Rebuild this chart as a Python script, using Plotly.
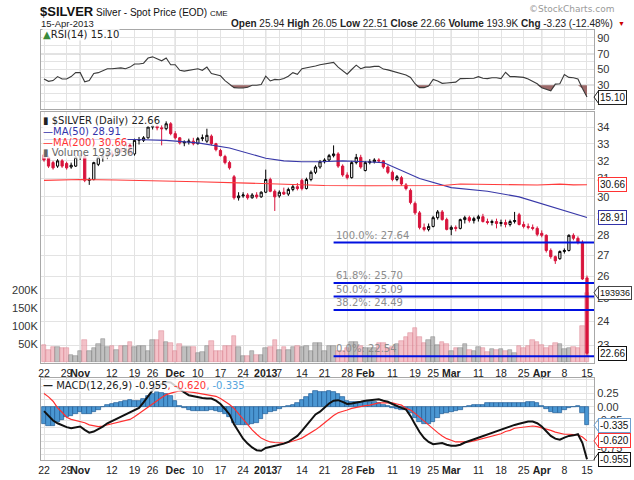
import math
import pandas as pd
import plotly.graph_objects as go

W, H = 634, 480
def px(v): return v / W
def py(v): return 1 - v / H

# ---------------- data ----------------
holidays = ['2012-11-22', '2012-12-25', '2013-01-01', '2013-02-18', '2013-03-29']
dates = [d.strftime('%Y-%m-%d') for d in pd.bdate_range('2012-10-22', '2013-04-15')
         if d.strftime('%Y-%m-%d') not in holidays]
xs = list(range(len(dates)))

opens = [32.35, 32.20, 31.90, 31.70, 32.00, 31.85, 31.65, 31.70, 32.20, 32.25,
         30.90, 30.95, 31.80, 32.20, 32.25, 32.45, 32.35, 32.75, 32.55, 32.90,
         32.40, 33.20, 33.20, 33.35, 34.00, 34.05, 33.95, 33.90, 34.20, 33.60,
         33.35, 33.05, 33.10, 33.15, 33.00, 33.30, 33.15, 33.45, 33.00, 32.60,
         32.25, 31.90, 31.10, 29.95, 30.05, 30.10, 29.95, 30.10, 30.00, 30.25,
         30.95, 30.30, 30.05, 30.25, 30.15, 30.40, 30.55, 30.90, 30.45, 30.95,
         31.35, 31.65, 31.95, 32.05, 32.30, 32.40, 31.70, 31.20, 31.05, 31.90,
         32.20, 31.45, 31.90, 31.95, 32.05, 32.00, 31.65, 31.35, 30.95, 31.05,
         30.65, 30.35, 29.65, 29.15, 28.40, 28.30, 28.45, 28.90, 29.20, 28.80,
         28.30, 28.40, 28.35, 28.80, 28.90, 28.75, 28.85, 28.95, 28.70, 28.65,
         28.70, 28.60, 28.65, 28.55, 28.70, 29.05, 28.55, 28.45, 28.40, 28.35,
         28.10, 28.00, 27.25, 26.95, 26.85, 27.20, 27.25, 28.00, 27.85, 27.65, 25.94]
highs = [32.50, 32.30, 32.00, 32.10, 32.10, 31.95, 31.90, 32.30, 32.45, 32.35,
         31.05, 31.95, 32.30, 32.45, 32.60, 32.60, 32.85, 33.00, 33.05, 33.00,
         33.30, 33.40, 33.45, 34.05, 34.15, 34.20, 34.10, 34.35, 34.30, 33.75,
         33.40, 33.20, 33.30, 33.35, 33.40, 33.55, 33.90, 33.55, 33.05, 32.70,
         32.35, 32.00, 31.20, 30.25, 30.25, 30.20, 30.20, 30.25, 30.30, 31.50,
         31.05, 30.40, 30.35, 30.50, 30.50, 30.70, 30.75, 31.00, 31.05, 31.45,
         31.75, 32.05, 32.15, 32.40, 32.90, 32.50, 31.80, 31.35, 32.00, 32.40,
         32.35, 32.00, 32.10, 32.15, 32.15, 32.05, 31.75, 31.45, 31.20, 31.15,
         30.75, 30.45, 29.75, 29.25, 28.60, 28.60, 29.00, 29.30, 29.30, 28.90,
         28.50, 28.50, 28.85, 29.00, 29.00, 28.95, 29.05, 29.10, 28.85, 28.80,
         28.85, 28.80, 28.80, 28.80, 29.20, 29.15, 28.70, 28.60, 28.55, 28.45,
         28.25, 28.05, 27.35, 27.00, 27.25, 27.35, 28.05, 28.10, 27.95, 27.75, 26.05]
lows = [31.95, 31.60, 31.50, 31.60, 31.60, 31.50, 31.55, 31.65, 32.05, 30.80,
        30.65, 30.90, 31.70, 31.95, 32.10, 32.20, 32.25, 32.45, 32.45, 32.35,
        32.30, 32.95, 33.10, 33.30, 33.85, 33.80, 32.90, 33.80, 33.50, 33.25,
        32.95, 32.85, 32.95, 32.90, 32.95, 33.15, 33.05, 32.90, 32.55, 32.25,
        31.80, 31.50, 29.85, 29.80, 29.95, 29.85, 29.90, 29.90, 29.95, 30.20,
        30.25, 29.25, 29.95, 30.10, 30.05, 30.30, 30.35, 30.35, 30.40, 30.85,
        31.25, 31.55, 31.85, 31.95, 32.20, 31.60, 31.10, 30.95, 31.00, 31.80,
        31.55, 31.40, 31.80, 31.85, 31.90, 31.55, 31.25, 30.85, 30.85, 30.60,
        30.35, 29.60, 29.05, 28.30, 28.20, 28.20, 28.40, 28.80, 28.75, 28.25,
        28.00, 28.20, 28.30, 28.60, 28.65, 28.60, 28.70, 28.65, 28.55, 28.50,
        28.35, 28.45, 28.40, 28.45, 28.60, 28.50, 28.35, 28.30, 28.25, 27.95,
        27.90, 27.15, 26.85, 26.60, 26.80, 27.10, 27.20, 27.75, 27.55, 25.85, 22.51]
closes = [32.05, 31.70, 31.60, 32.00, 31.70, 31.60, 31.75, 32.20, 32.30, 30.90,
          30.95, 31.90, 32.20, 32.25, 32.45, 32.35, 32.75, 32.55, 32.95, 32.45,
          33.20, 33.25, 33.35, 34.00, 34.05, 33.95, 33.90, 34.20, 33.60, 33.35,
          33.05, 33.10, 33.15, 33.00, 33.30, 33.35, 33.50, 33.00, 32.65, 32.30,
          31.90, 31.60, 29.95, 30.05, 30.10, 29.95, 30.10, 30.00, 30.25, 30.95,
          30.30, 30.00, 30.25, 30.15, 30.40, 30.55, 30.45, 30.45, 30.95, 31.35,
          31.65, 31.95, 32.05, 32.30, 32.40, 31.70, 31.20, 31.05, 31.90, 32.20,
          31.65, 31.90, 31.95, 32.05, 32.00, 31.65, 31.35, 30.95, 31.10, 30.70,
          30.45, 29.70, 29.15, 28.40, 28.30, 28.45, 28.90, 29.20, 28.80, 28.30,
          28.40, 28.35, 28.80, 28.90, 28.75, 28.85, 28.95, 28.70, 28.65, 28.70,
          28.60, 28.65, 28.55, 28.70, 28.75, 28.55, 28.45, 28.40, 28.35, 28.05,
          28.00, 27.25, 26.95, 26.75, 27.20, 27.25, 28.00, 27.85, 27.65, 25.89, 22.66]
volume_k = [48, 34, 41, 41, 38, 38, 20, 18, 30, 62,
            32, 38, 50, 65, 41, 46, 34, 46, 44, 55,
            41, 46, 46, 30, 62, 62, 87, 57, 53, 32,
            50, 41, 41, 41, 25, 28, 46, 60, 30, 30,
            45, 45, 74, 41, 16, 18, 32, 20, 20, 38,
            41, 62, 34, 41, 34, 41, 45, 41, 45, 32,
            53, 53, 32, 44, 44, 30, 30, 38, 55, 55,
            45, 40, 40, 40, 53, 53, 38, 42, 50, 60,
            71, 81, 96, 71, 53, 62, 71, 48, 57, 50,
            32, 38, 38, 50, 34, 30, 41, 38, 28, 36,
            34, 36, 32, 34, 24, 46, 40, 46, 62, 55,
            48, 38, 45, 53, 50, 36, 40, 42, 40, 101, 193.936]
rsi = [38, 35, 36, 41, 38, 38, 41, 46, 46, 34.5,
       36, 45, 46, 49, 51, 51, 51.5, 52, 51, 53,
       57, 57, 58, 64.5, 66, 63, 61, 64.5, 56, 56,
       49, 48, 49, 50, 51, 49, 53, 45, 43.5, 42,
       36, 32, 27, 26.5, 26.5, 27.5, 30, 30, 31, 41.5,
       35.5, 37.5, 37, 38.5, 41.5, 46, 44, 51, 52, 53.5,
       54.5, 56, 57, 58, 59, 53, 48, 44, 50, 55.5,
       51, 53, 53, 54, 54, 50.5, 49.5, 48, 46, 44.5,
       43, 40, 32, 27, 27, 29, 37.5, 35.5, 32.5, 33,
       33.5, 34, 38.5, 38.5, 38.5, 39, 41, 39, 38.5, 39.5,
       39.5, 38.5, 46.5, 41, 41, 40.5, 40, 38, 35.5, 32,
       27, 25, 23, 31.5, 32, 43.5, 40, 39.5, 38, 26, 15.1]
macd = [-0.08, -0.17, -0.25, -0.30, -0.34, -0.37, -0.39, -0.38, -0.36, -0.42,
        -0.47, -0.45, -0.41, -0.36, -0.30, -0.26, -0.23, -0.19, -0.15, -0.11,
        -0.07, -0.02, 0.08, 0.20, 0.30, 0.38, 0.42, 0.45, 0.44, 0.38,
        0.31, 0.26, 0.21, 0.19, 0.17, 0.16, 0.15, 0.15, 0.11, 0.05,
        -0.04, -0.14, -0.32, -0.46, -0.58, -0.67, -0.74, -0.79, -0.80, -0.75,
        -0.73, -0.72, -0.70, -0.67, -0.64, -0.59, -0.53, -0.44, -0.34, -0.24,
        -0.14, -0.09, -0.02, 0.06, 0.11, 0.12, 0.09, 0.05, 0.06, 0.07,
        0.09, 0.11, 0.12, 0.13, 0.135, 0.11, 0.09, 0.05, 0.01, -0.02,
        -0.05, -0.17, -0.32, -0.46, -0.57, -0.64, -0.68, -0.67, -0.66, -0.69,
        -0.71, -0.71, -0.69, -0.65, -0.62, -0.59, -0.57, -0.54, -0.50, -0.47,
        -0.44, -0.42, -0.39, -0.36, -0.33, -0.31, -0.29, -0.27, -0.27, -0.30,
        -0.36, -0.44, -0.53, -0.58, -0.60, -0.56, -0.53, -0.52, -0.50, -0.66, -0.955]
signal = [0.24, 0.18, 0.10, -0.02, -0.10, -0.19, -0.23, -0.25, -0.26, -0.29,
          -0.33, -0.35, -0.36, -0.35, -0.33, -0.31, -0.30, -0.28, -0.26, -0.23,
          -0.18, -0.12, -0.06, 0.00, 0.06, 0.12, 0.17, 0.22, 0.25, 0.27,
          0.29, 0.285, 0.27, 0.26, 0.245, 0.23, 0.22, 0.21, 0.19, 0.15,
          0.10, 0.04, -0.03, -0.13, -0.24, -0.34, -0.42, -0.50, -0.57, -0.61,
          -0.64, -0.65, -0.66, -0.66, -0.65, -0.63, -0.60, -0.57, -0.52, -0.48,
          -0.42, -0.36, -0.29, -0.22, -0.16, -0.11, -0.09, -0.06, -0.03, -0.01,
          0.00, 0.02, 0.03, 0.05, 0.07, 0.07, 0.07, 0.07, 0.05, 0.03,
          -0.03, -0.06, -0.12, -0.19, -0.26, -0.33, -0.41, -0.47, -0.53, -0.58,
          -0.61, -0.64, -0.64, -0.64, -0.64, -0.62, -0.60, -0.58, -0.56, -0.53,
          -0.51, -0.49, -0.45, -0.43, -0.39, -0.38, -0.36, -0.35, -0.35, -0.36,
          -0.38, -0.40, -0.43, -0.46, -0.48, -0.50, -0.50, -0.51, -0.51, -0.55, -0.62]

ma50_dates = ['2012-10-22', '2012-11-05', '2012-11-19', '2012-11-29', '2012-12-10', '2012-12-19',
              '2012-12-26', '2013-01-02', '2013-01-08', '2013-01-14', '2013-01-18', '2013-01-25',
              '2013-02-01', '2013-02-07', '2013-02-13', '2013-02-20', '2013-03-01', '2013-03-13',
              '2013-03-22', '2013-04-03', '2013-04-09', '2013-04-15']
ma50_vals = [33.25, 33.25, 33.25, 33.2, 33.05, 32.75, 32.45, 32.15, 32.0, 31.95, 31.95, 32.0,
             31.95, 31.9, 31.45, 31.0, 30.5, 30.3, 30.0, 29.5, 29.2, 28.91]
ma200_dates = ['2012-10-22', '2012-11-01', '2012-11-13', '2012-11-27', '2012-12-10', '2012-12-26',
               '2013-01-10', '2013-01-21', '2013-02-04', '2013-02-19', '2013-02-27', '2013-03-05',
               '2013-03-12', '2013-03-20', '2013-03-28', '2013-04-05', '2013-04-10', '2013-04-15']
ma200_vals = [30.9, 30.95, 30.92, 30.88, 30.82, 30.75, 30.67, 30.62, 30.6, 30.6, 30.62, 30.7,
              30.68, 30.66, 30.64, 30.69, 30.65, 30.66]

fib_levels = [27.64, 25.70, 25.09, 24.49, 22.54]
fib_labels = ['100.0%: 27.64', '61.8%: 25.70', '50.0%: 25.09', '38.2%: 24.49', '0.0%: 22.54']
fib_start = '2013-01-23'

tick_dates = ['2012-10-22', '2012-10-29', '2012-11-01', '2012-11-12', '2012-11-19', '2012-11-26',
              '2012-12-03', '2012-12-10', '2012-12-17', '2012-12-24', '2013-01-02', '2013-01-07',
              '2013-01-14', '2013-01-21', '2013-01-28', '2013-02-01', '2013-02-11', '2013-02-19',
              '2013-02-25', '2013-03-01', '2013-03-11', '2013-03-18', '2013-03-25', '2013-04-01',
              '2013-04-08', '2013-04-15']
tick_labels = ['22', '29', '<b>Nov</b>', '12', '19', '26', '<b>Dec</b>', '10', '17', '24', '<b>2013</b>',
               '7', '14', '21', '28', '<b>Feb</b>', '11', '19', '25', '<b>Mar</b>', '11', '18', '25',
               '<b>Apr</b>', '8', '15']
month_dates = ['2012-11-01', '2012-12-03', '2013-01-02', '2013-02-01', '2013-03-01', '2013-04-01']

price_ticks = [23, 24, 25, 26, 27, 28, 29, 30, 31, 32, 33, 34]
vol_ticks = [50000, 100000, 150000, 200000]
vol_tick_text = ['50K', '100K', '150K', '200K']
rsi_ticks = [10, 20, 30, 40, 50, 60, 70, 80, 90]
rsi_tick_text = ['10', '', '30', '', '50', '', '70', '', '90']
macd_ticks = [-0.875, -0.75, -0.625, -0.5, -0.375, -0.25, -0.125, 0, 0.125, 0.25, 0.375, 0.5]
macd_tick_text = ['', '-0.75', '', '-0.50', '', '-0.25', '', '0.00', '', '0.25', '', '']

# ---------------- geometry ----------------
XD = [px(41), px(594)]
XR = [-0.663, 121.55]
RSI_D = [py(109), py(30)]
PRICE_D = [py(363), py(112)]
MACD_D = [py(460), py(378)]
PRICE_R = [math.log10(22.27), math.log10(34.93)]
VOL_R = [-2800, 700000]
MACD_R = [-0.968, 0.5227]

pos = {d: i for i, d in enumerate(dates)}
tick_pos = [pos[d] for d in tick_dates]
month_pos = [pos[d] for d in month_dates]

RED = '#D8143C'
GRID = '#e3e3e3'
FRAME = '#a8a8a8'
TFONT = dict(family='Liberation Sans, Arial', size=11, color='#333333')
LFONT = 'DejaVu Sans, Verdana'
LEG_BG = 'rgba(255,255,255,0.8)'

fig = go.Figure()

# RSI
fig.add_trace(go.Scatter(x=xs, y=[30] * len(xs), xaxis='x', yaxis='y', mode='lines',
                         line=dict(width=0, color='rgba(0,0,0,0)'), hoverinfo='skip', showlegend=False))
fig.add_trace(go.Scatter(x=xs, y=[min(v, 30) for v in rsi], xaxis='x', yaxis='y', mode='lines',
                         fill='tonexty', fillcolor='rgba(140,80,80,0.85)',
                         line=dict(width=0, color='rgba(0,0,0,0)'), hoverinfo='skip', showlegend=False))
fig.add_trace(go.Scatter(x=xs, y=rsi, xaxis='x', yaxis='y', mode='lines',
                         line=dict(color='#3a3a3a', width=1.1), hoverinfo='skip', showlegend=False))

# Volume
vol = [v * 1000 for v in volume_k]
down = [closes[i] < (closes[i - 1] if i > 0 else opens[i]) for i in xs]
vol_fill = ['rgba(236,160,170,0.65)' if d else 'rgba(150,150,150,0.6)' for d in down]
vol_line = ['rgba(215,120,135,0.7)' if d else 'rgba(115,115,115,0.7)' for d in down]
fig.add_trace(go.Bar(x=xs, y=vol, xaxis='x2', yaxis='y2', width=1,
                     marker=dict(color=vol_fill, line=dict(color=vol_line, width=0.6)),
                     hoverinfo='skip', showlegend=False))

# Price
fig.add_trace(go.Candlestick(x=xs, open=opens, high=highs, low=lows, close=closes,
                             xaxis='x2', yaxis='y3', whiskerwidth=0,
                             increasing=dict(line=dict(color='#000000', width=1), fillcolor='#ffffff'),
                             decreasing=dict(line=dict(color=RED, width=1), fillcolor=RED),
                             hoverinfo='skip', showlegend=False))
fig.add_trace(go.Scatter(x=[pos[d] for d in ma50_dates], y=ma50_vals, xaxis='x2', yaxis='y3',
                         mode='lines', line=dict(color='#3838A8', width=1.1),
                         hoverinfo='skip', showlegend=False))
fig.add_trace(go.Scatter(x=[pos[d] for d in ma200_dates], y=ma200_vals, xaxis='x2', yaxis='y3',
                         mode='lines', line=dict(color='#FF3B3B', width=1.1),
                         hoverinfo='skip', showlegend=False))
for lv in fib_levels:
    fig.add_trace(go.Scatter(x=[pos[fib_start], XR[1]], y=[lv, lv], xaxis='x2', yaxis='y3',
                             mode='lines', line=dict(color='#0010E0', width=2),
                             hoverinfo='skip', showlegend=False))

# MACD
hist = [m - s for m, s in zip(macd, signal)]
fig.add_trace(go.Bar(x=xs, y=hist, xaxis='x3', yaxis='y4', width=1,
                     marker=dict(color='#4A96D2', line=dict(color='#1F5C96', width=0.7)),
                     hoverinfo='skip', showlegend=False))
fig.add_trace(go.Scatter(x=xs, y=signal, xaxis='x3', yaxis='y4', mode='lines',
                         line=dict(color='#FF3030', width=1.2), hoverinfo='skip', showlegend=False))
fig.add_trace(go.Scatter(x=xs, y=macd, xaxis='x3', yaxis='y4', mode='lines',
                         line=dict(color='#111111', width=2), hoverinfo='skip', showlegend=False))

# ---------------- shapes ----------------
shapes = []
for dom in (RSI_D, PRICE_D, MACD_D):
    for m in month_pos:
        shapes.append(dict(type='line', xref='x', yref='paper', x0=m, x1=m, y0=dom[0], y1=dom[1],
                           line=dict(color='#b8b8b8', width=1), layer='below'))
for lv, dash, col in ((70, 'solid', '#8a8a8a'), (30, 'solid', '#8a8a8a'), (50, 'dashdot', '#9a9a9a')):
    shapes.append(dict(type='line', xref='paper', yref='y', x0=XD[0], x1=XD[1], y0=lv, y1=lv,
                       line=dict(color=col, width=1.2, dash=dash), layer='below'))

# ---------------- annotations ----------------
ann = []
def text(x, y, s, size=10, color='#222222', family='Liberation Sans, Arial', anchor='left', **kw):
    ann.append(dict(x=px(x), y=py(y), xref='paper', yref='paper', text=s, showarrow=False,
                    xanchor=anchor, yanchor='middle', font=dict(size=size, color=color, family=family), **kw))

text(38, 11, '<b>$SILVER</b><span style="font-size:10px"> Silver - Spot Price (EOD) </span>'
             '<span style="font-size:8px">CME</span>', size=13, color='#111111',
     family='Liberation Sans Narrow, Liberation Sans, Arial')
text(616, 9, '©StockCharts.com', size=9, color='#9a9a9a', family=LFONT, anchor='right')
text(39, 23, '15-Apr-2013', size=9.5, color='#222222')
text(615, 23, '<b>Open</b> 25.94 <b>High</b> 26.05 <b>Low</b> 22.51 <b>Close</b> 22.66 '
              '<b>Volume</b> 193.9K <b>Chg</b> -3.23 (-12.48%)', size=10, color='#222222', anchor='right')
text(616, 23, '▼', size=7, color='#CC0000')

text(42, 35, '<span style="color:#3a8a3a">▲</span>RSI(14) 15.10', size=10, color='#222222',
     family=LFONT, bgcolor=LEG_BG, borderpad=0)
legend_lines = [('▮ $SILVER (Daily) 22.66', '#222222', 120),
                ('—MA(50) 28.91', '#3333AA', 131),
                ('—MA(200) 30.66', '#FF3333', 142),
                ('▮ Volume 193,936', '#666666', 152)]
for s, c, yy in legend_lines:
    text(42, yy, s, size=10, color=c, family=LFONT, bgcolor=LEG_BG, borderpad=0)
text(42, 385, '<b>—</b> MACD(12,26,9) -0.955<span style="color:#FF3333">, -0.620</span>'
              '<span style="color:#55A5DD">, -0.335</span>', size=10, color='#222222',
     family=LFONT, bgcolor=LEG_BG, borderpad=0)

for lv, lab in zip(fib_levels, fib_labels):
    ann.append(dict(x=pos[fib_start], y=math.log10(lv), xref='x2', yref='y3', text=lab,
                    showarrow=False, xanchor='left', yanchor='bottom', yshift=0,
                    font=dict(size=10, color='#8c8c8c', family=LFONT)))

def value_box(val, yref, label, border, size=10):
    yv = math.log10(val) if yref == 'y3' else val
    ann.append(dict(x=px(598), y=yv, xref='paper', yref=yref, text=label, showarrow=False,
                    xanchor='left', yanchor='middle', bgcolor='#ffffff', bordercolor=border,
                    borderwidth=1, borderpad=1,
                    font=dict(size=size, color='#111111', family='Liberation Sans, Arial')))
    shapes.append(dict(type='path', xref='paper', yref=yref, xsizemode='pixel', ysizemode='pixel',
                       xanchor=px(594), yanchor=yv, path='M 5,7 L 0,0 L 5,-7',
                       line=dict(color=border, width=1), layer='above'))

value_box(15.10, 'y', '15.10', '#222222')
value_box(30.66, 'y3', '30.66', '#FF3333')
value_box(28.91, 'y3', '28.91', '#3333AA')
value_box(193936, 'y2', '193936', '#444444', size=9)
value_box(22.66, 'y3', '22.66', '#111111')
value_box(-0.335, 'y4', '-0.335', '#6F9FCF')
value_box(-0.620, 'y4', '-0.620', '#FF3333')
value_box(-0.955, 'y4', '-0.955', '#111111')

# ---------------- layout ----------------
xcommon = dict(domain=XD, range=XR, tickvals=tick_pos, ticktext=tick_labels, showgrid=True,
               gridcolor=GRID, gridwidth=1, zeroline=False, showline=True, mirror=True,
               linecolor=FRAME, linewidth=1, ticks='', tickangle=0, automargin=False,
               tickfont=dict(family='Liberation Sans, Arial', size=10.5, color='#222222'))
ycommon = dict(showgrid=True, gridcolor=GRID, zeroline=False, showline=True, mirror=True,
               linecolor=FRAME, linewidth=1, ticks='', tickfont=TFONT, automargin=False)

fig.update_layout(
    width=W, height=H, autosize=False,
    margin=dict(l=0, r=0, t=0, b=0, pad=0),
    paper_bgcolor='#ffffff', plot_bgcolor='#ffffff',
    showlegend=False, bargap=0, barmode='overlay',
    xaxis=dict(**xcommon, anchor='y', showticklabels=False),
    yaxis=dict(**ycommon, domain=RSI_D, range=[0, 100], side='right', anchor='x',
               tickvals=rsi_ticks, ticktext=rsi_tick_text),
    xaxis2=dict(**xcommon, anchor='y2', showticklabels=True, rangeslider=dict(visible=False)),
    yaxis2=dict(domain=PRICE_D, range=VOL_R, side='left', anchor='x2', showgrid=False,
                zeroline=False, showline=True, linecolor=FRAME, ticks='', tickfont=TFONT,
                tickvals=vol_ticks, ticktext=vol_tick_text, automargin=False),
    yaxis3=dict(**ycommon, overlaying='y2', anchor='x2', side='right', type='log', range=PRICE_R,
                tickvals=price_ticks, ticktext=[str(t) for t in price_ticks]),
    xaxis3=dict(**xcommon, anchor='y4', showticklabels=True),
    yaxis4=dict(**ycommon, domain=MACD_D, range=MACD_R, side='right', anchor='x3',
                tickvals=macd_ticks, ticktext=macd_tick_text),
    shapes=shapes,
    annotations=ann,
)

fig.write_html('out.html')
